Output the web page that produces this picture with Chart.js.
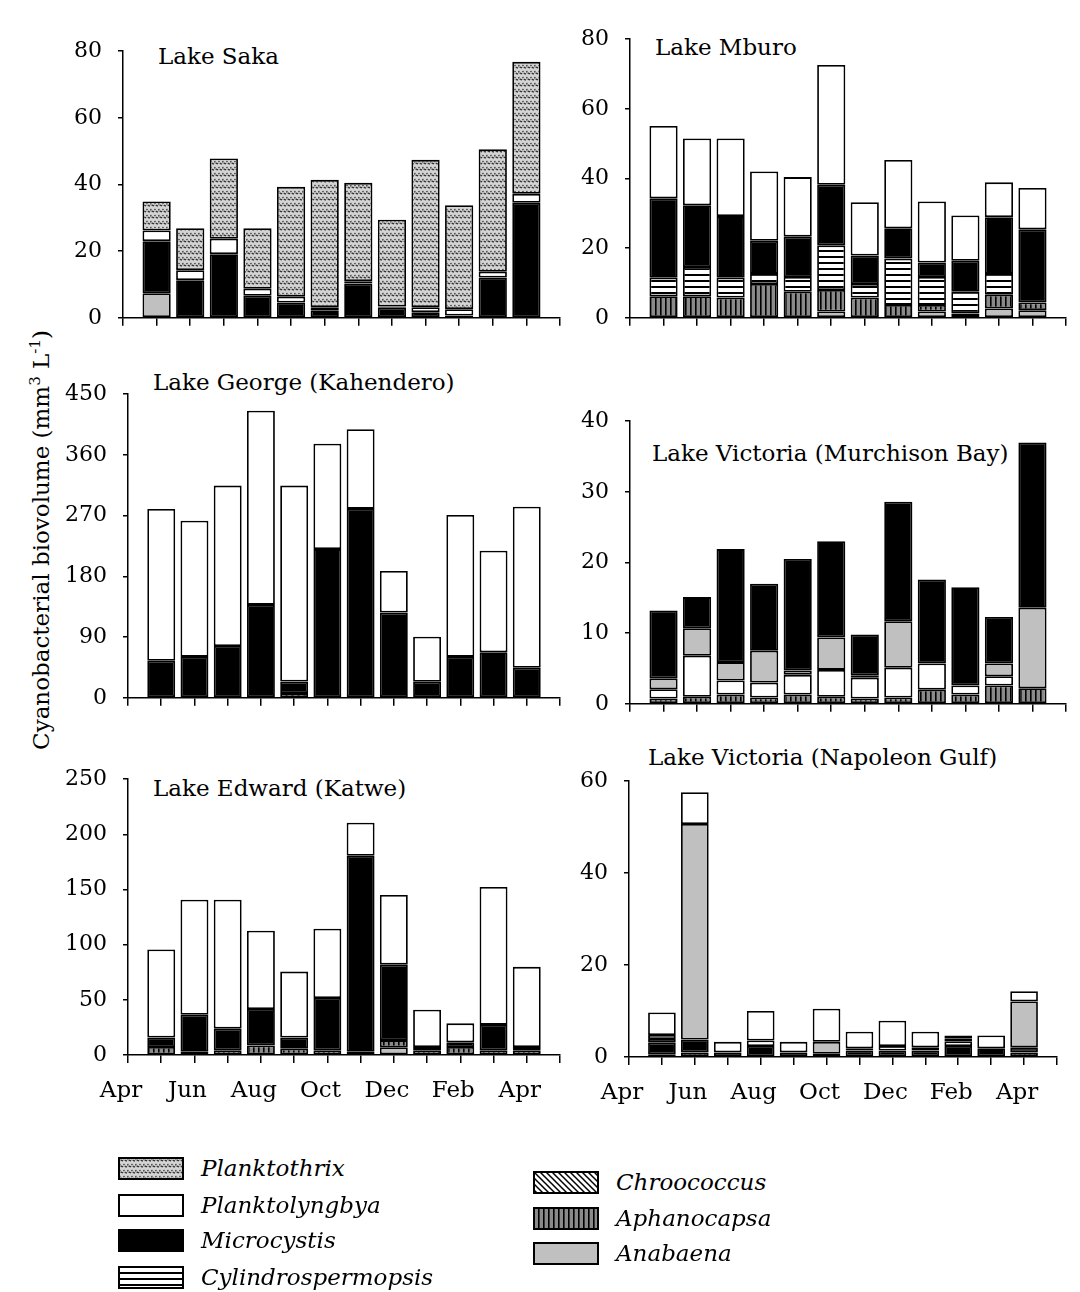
<!DOCTYPE html>
<html>
<head>
<meta charset="utf-8">
<script src="https://cdn.jsdelivr.net/npm/chart.js@4"></script>
<style>
  body { margin: 0; width: 1080px; height: 1292px; background: #fff; overflow: hidden; position: relative; font-family: 'DejaVu Serif', serif; color: #000; }
  canvas.panel { position: absolute; }
  .ttl { position: absolute; font-size: 23px; line-height: 23px; white-space: nowrap; }
  .ytitle { position: absolute; left: 40px; top: 540px; font-size: 23px; white-space: nowrap; transform: translate(-50%, -50%) rotate(-90deg); }
  .ytitle sup { font-size: 15px; }
  .leg { position: absolute; display: flex; align-items: center; font-style: italic; font-size: 23px; white-space: nowrap; }
  .leg canvas { margin-right: 17px; }
</style>
</head>
<body>
<div class="ytitle">Cyanobacterial biovolume (mm<sup>3</sup> L<sup>-1</sup>)</div>
<div class="ttl" style="left:158px;top:45px">Lake Saka</div>
<div class="ttl" style="left:655px;top:36px">Lake Mburo</div>
<div class="ttl" style="left:153px;top:371px">Lake George (Kahendero)</div>
<div class="ttl" style="left:652px;top:442px">Lake Victoria (Murchison Bay)</div>
<div class="ttl" style="left:153px;top:777px">Lake Edward (Katwe)</div>
<div class="ttl" style="left:648px;top:746px">Lake Victoria (Napoleon Gulf)</div>
<div id="legend"></div>
<script>
// axe des mois : Apr ... Apr (+ une case vide à droite), barres de May à Apr
const axisMonths = ['Apr', 'May', 'Jun', 'Jul', 'Aug', 'Sep', 'Oct', 'Nov', 'Dec', 'Jan', 'Feb', 'Mar', 'Apr', ''];

// Lake Saka
const sakaAnabaena = [7.4, 0, 0, 0, 0, 0, 0, 0, 0, 0, 0, 0];
const sakaMicrocystis = [15.6, 11.3, 19.1, 6.6, 4.6, 2.3, 10.3, 3.0, 1.7, 0.7, 12.1, 34.5];
const sakaPlanktolyngbya = [3.2, 3.0, 4.6, 2.1, 1.7, 0.9, 0.7, 0.4, 1.5, 1.9, 1.7, 2.7];
const sakaPlanktothrix = [8.7, 12.6, 24.1, 18.2, 33.0, 38.2, 29.5, 26.0, 44.2, 31.2, 36.8, 39.6];

// Lake Mburo
const mburoAnabaena = [0, 0, 0, 0, 0, 1.8, 0, 0, 1.8, 0, 2.7, 2.2];
const mburoAphanocapsa = [6.2, 6.2, 5.8, 9.7, 7.5, 6.2, 5.8, 3.7, 1.9, 1.2, 3.9, 2.2];
const mburoCylindrospermopsis = [5.3, 8.4, 5.7, 2.9, 4.2, 12.8, 3.9, 13.3, 8.0, 6.3, 6.0, 0];
const mburoMicrocystis = [22.8, 17.7, 17.7, 9.5, 11.6, 17.4, 8.2, 8.7, 4.2, 8.9, 16.3, 21.0];
const mburoPlanktolyngbya = [20.8, 19.2, 22.3, 19.9, 17.1, 34.4, 15.3, 19.6, 17.5, 13.0, 10.0, 11.9];

// Lake George (Kahendero)
const georgeChroococcus = [0, 0, 0, 0, 7, 0, 0, 0, 0, 0, 0, 0];
const georgeMicrocystis = [55, 60.6, 76.7, 137.7, 17, 220.4, 280, 126.3, 23.9, 60.6, 67.5, 44.5];
const georgePlanktolyngbya = [225, 202, 237.8, 287.9, 290.5, 156.1, 118, 61.7, 66.5, 210.3, 150.5, 238.8];

// Lake Victoria (Murchison Bay)
const murchAphanocapsa = [0.75, 1.0, 1.3, 0.9, 1.3, 1.0, 0.75, 0.9, 2.0, 1.3, 2.6, 2.2];
const murchPlanktolyngbya = [1.3, 5.8, 2.0, 2.1, 2.8, 3.8, 2.95, 4.2, 3.7, 1.3, 1.3, 0];
const murchAnabaena = [1.55, 3.9, 2.6, 4.5, 0.6, 4.6, 0.35, 6.6, 0, 0, 1.8, 11.4];
const murchMicrocystis = [9.6, 4.4, 16.0, 9.5, 15.8, 13.6, 5.75, 16.9, 11.9, 13.9, 6.6, 23.4];

// Lake Edward (Katwe)
const edwardAnabaena = [0, 0, 0, 0, 0, 0, 0, 7, 0, 0, 0, 0];
const edwardAphanocapsa = [7.2, 3, 4.3, 8.6, 5.7, 4.3, 2.9, 6.5, 4.3, 7.2, 4.3, 4.3];
const edwardMicrocystis = [8.6, 33.5, 19.6, 33.1, 10.1, 47.4, 177.6, 68.4, 2.9, 4.3, 23, 2.9];
const edwardPlanktolyngbya = [79.9, 104.3, 116.9, 70.9, 59.8, 62.7, 30.1, 63.2, 33.9, 17.2, 125, 72.7];

// Lake Victoria (Napoleon Gulf)
const napAphanocapsa = [0.6, 1.0, 0, 0, 0, 0, 0, 0, 0, 0, 0, 1.0];
const napMicrocystis = [2.5, 2.8, 1.0, 2.4, 1.0, 0.7, 1.4, 1.4, 1.4, 2.4, 1.9, 1.1];
const napCylindrospermopsis = [0.8, 0, 0, 1.2, 0, 0, 0.5, 1.0, 0.7, 1.0, 0, 0];
const napAnabaena = [0.9, 46.9, 0, 0, 0, 2.6, 0, 0, 0, 0.7, 0, 10.0];
const napPlanktolyngbya = [4.9, 6.9, 2.3, 6.4, 2.3, 7.2, 3.6, 5.5, 3.4, 0.6, 2.8, 2.2];

// motifs de remplissage
function pattern(w, h, draw) {
  const c = document.createElement('canvas');
  c.width = w; c.height = h;
  const g = c.getContext('2d');
  draw(g, w, h);
  return g.createPattern(c, 'repeat');
}
const fills = {
  Planktothrix: pattern(8, 6, g => {
    g.fillStyle = '#d4d4d4'; g.fillRect(0, 0, 8, 6);
    g.strokeStyle = '#2a2a2a'; g.lineWidth = 1.2;
    g.setLineDash([1.5, 1]);
    g.beginPath(); g.moveTo(0, 4.5); g.lineTo(2, 1.5); g.lineTo(4, 4.5); g.lineTo(6, 1.5); g.lineTo(8, 4.5); g.stroke();
  }),
  Planktolyngbya: '#ffffff',
  Microcystis: '#000000',
  Cylindrospermopsis: pattern(6, 6, g => {
    g.fillStyle = '#fff'; g.fillRect(0, 0, 6, 6);
    g.fillStyle = '#000'; g.fillRect(0, 0, 6, 2);
  }),
  Chroococcus: pattern(6, 6, g => {
    g.fillStyle = '#fff'; g.fillRect(0, 0, 6, 6);
    g.strokeStyle = '#000'; g.lineWidth = 1.5;
    g.beginPath();
    for (const k of [-6, 0, 6]) { g.moveTo(-1, -1 + k); g.lineTo(7, 7 + k); }
    g.stroke();
  }),
  Aphanocapsa: pattern(5, 4, g => {
    g.fillStyle = '#8a8a8a'; g.fillRect(0, 0, 5, 4);
    g.fillStyle = '#000'; g.fillRect(0, 0, 1.6, 4);
  }),
  Anabaena: '#c0c0c0'
};

function ds(name, values) {
  return {
    label: name,
    data: [null, ...values.map(v => v || null), null],
    backgroundColor: fills[name],
    borderColor: '#000',
    borderWidth: 1.8,
    borderSkipped: false,
    barPercentage: 0.84,
    categoryPercentage: 1
  };
}

const L = 70, T = 15;
const panels = [
  { x0: 123, x1: 570, yTop: 37, yBot: 327, max: 80, step: 20, labels: false,
    series: [ds('Anabaena', sakaAnabaena), ds('Microcystis', sakaMicrocystis), ds('Planktolyngbya', sakaPlanktolyngbya), ds('Planktothrix', sakaPlanktothrix)] },
  { x0: 630, x1: 1078, yTop: 25, yBot: 327, max: 80, step: 20, labels: false,
    series: [ds('Anabaena', mburoAnabaena), ds('Aphanocapsa', mburoAphanocapsa), ds('Cylindrospermopsis', mburoCylindrospermopsis), ds('Microcystis', mburoMicrocystis), ds('Planktolyngbya', mburoPlanktolyngbya)] },
  { x0: 128, x1: 570, yTop: 380, yBot: 707, max: 450, step: 90, labels: false,
    series: [ds('Chroococcus', georgeChroococcus), ds('Microcystis', georgeMicrocystis), ds('Planktolyngbya', georgePlanktolyngbya)] },
  { x0: 630, x1: 1077, yTop: 407, yBot: 713, max: 40, step: 10, labels: false,
    series: [ds('Aphanocapsa', murchAphanocapsa), ds('Planktolyngbya', murchPlanktolyngbya), ds('Anabaena', murchAnabaena), ds('Microcystis', murchMicrocystis)] },
  { x0: 128, x1: 570, yTop: 765, yBot: 1055, max: 250, step: 50, labels: true,
    series: [ds('Anabaena', edwardAnabaena), ds('Aphanocapsa', edwardAphanocapsa), ds('Microcystis', edwardMicrocystis), ds('Planktolyngbya', edwardPlanktolyngbya)] },
  { x0: 629, x1: 1067, yTop: 767, yBot: 1057, max: 60, step: 20, labels: true,
    series: [ds('Aphanocapsa', napAphanocapsa), ds('Microcystis', napMicrocystis), ds('Cylindrospermopsis', napCylindrospermopsis), ds('Anabaena', napAnabaena), ds('Planktolyngbya', napPlanktolyngbya)] }
];

Chart.defaults.font.family = "'DejaVu Serif', serif";
Chart.defaults.color = '#000';

panels.forEach(p => {
  const B = p.labels ? 62 : 20;
  const R = Math.min(4, 1080 - p.x1);
  const cv = document.createElement('canvas');
  cv.className = 'panel';
  cv.width = L + (p.x1 - p.x0) + R;
  cv.height = T + (p.yBot - p.yTop) + B;
  cv.style.left = (p.x0 - L) + 'px';
  cv.style.top = (p.yTop - T) + 'px';
  document.body.appendChild(cv);
  new Chart(cv, {
    type: 'bar',
    data: { labels: axisMonths, datasets: p.series },
    options: {
      responsive: false,
      animation: false,
      devicePixelRatio: 1,
      layout: { padding: { top: T, right: R, left: 0, bottom: 0 } },
      plugins: { legend: { display: false }, tooltip: { enabled: false } },
      scales: {
        x: {
          type: 'category',
          offset: false,
          stacked: true,
          grid: { offset: false, drawOnChartArea: false, tickLength: 8, color: '#000', lineWidth: 1.5 },
          border: { color: '#000', width: 1.5 },
          ticks: {
            autoSkip: false, maxRotation: 0, minRotation: 0, padding: 14, labelOffset: -7,
            font: { size: 23 },
            callback: (v, i) => (p.labels && i % 2 === 0) ? axisMonths[i] : ''
          },
          afterFit: s => { s.height = B; }
        },
        y: {
          stacked: true,
          min: 0, max: p.max,
          grid: { drawOnChartArea: false, tickLength: 5, color: '#000', lineWidth: 1.5 },
          border: { color: '#000', width: 1.5 },
          ticks: { stepSize: p.step, padding: 16, font: { size: 22 } },
          afterFit: s => { s.width = L; }
        }
      }
    }
  });
});

// légende
const legendItems = [
  { name: 'Planktothrix', x: 118, y: 1168 },
  { name: 'Planktolyngbya', x: 118, y: 1205 },
  { name: 'Microcystis', x: 118, y: 1240 },
  { name: 'Cylindrospermopsis', x: 118, y: 1277 },
  { name: 'Chroococcus', x: 533, y: 1182 },
  { name: 'Aphanocapsa', x: 533, y: 1218 },
  { name: 'Anabaena', x: 533, y: 1253 }
];
const legend = document.getElementById('legend');
legendItems.forEach(it => {
  const row = document.createElement('div');
  row.className = 'leg';
  row.style.left = it.x + 'px';
  row.style.top = (it.y - 15) + 'px';
  row.style.height = '30px';
  const sw = document.createElement('canvas');
  sw.width = 66; sw.height = 23;
  const g = sw.getContext('2d');
  g.fillStyle = fills[it.name];
  g.fillRect(0, 0, 66, 23);
  g.strokeStyle = '#000'; g.lineWidth = 2;
  g.strokeRect(1, 1, 64, 21);
  row.appendChild(sw);
  const t = document.createElement('span');
  t.textContent = it.name;
  row.appendChild(t);
  legend.appendChild(row);
});
</script>
</body>
</html>
